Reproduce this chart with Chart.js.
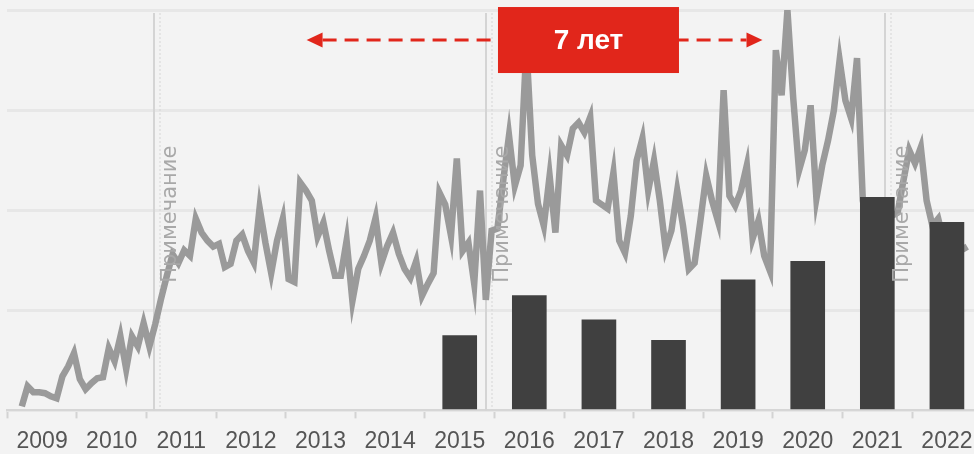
<!DOCTYPE html>
<html><head><meta charset="utf-8">
<script src="https://cdn.jsdelivr.net/npm/chart.js@4.4.1/dist/chart.umd.min.js"></script>
<style>
html,body{margin:0;padding:0;background:#f3f3f3;overflow:hidden;}
#wrap{position:relative;width:974px;height:454px;}
</style></head><body>
<div id="wrap"><canvas id="c" width="974" height="454"></canvas></div>
<script>
// ---- data ----
const years = [2009,2010,2011,2012,2013,2014,2015,2016,2017,2018,2019,2020,2021,2022];
const barYears = [2015,2016,2017,2018,2019,2020,2021,2022];
const barValues = [18.7,28.7,22.6,17.5,32.6,37.2,53.2,47.0];
const lineStartYear = 2009;
const lineStartMonth = 3; // March 2009, monthly
const lineValues = [
  1,6,4.5,4.5,4.3,3.5,3,8.5,11,14.3,            // 2009 Mar-Dec
  7.8,5.3,6.8,8,8.3,15.5,12.3,18.5,10.3,18.5,16,21.8, // 2010
  16,21.5,27.8,33.6,39,36.8,40,38.6,47.9,44.4,42.4,40.9, // 2011
  41.6,35.8,36.6,42.4,43.9,39.8,36.9,50.6,41.9,34.3,42.4,47.9, // 2012
  32.8,32.1,56.9,54.9,52.4,43.4,46.9,39.8,33.6,33.6,42.4,27.3, // 2013
  35.3,38.6,42.4,48.1,36.8,41.1,44.4,39.1,35.3,33.1,37.3,28.6, // 2014
  31.6,34.3,54.4,51.4,43.6,62.9,39.8,41.9,31.6,54.9,27.6,44.9, // 2015
  45.4,57.4,68.7,56.1,61.2,91,63.7,51.6,46.1,58.6,44.4,66.2, // 2016
  63.7,70.4,71.9,69.4,73.2,52.4,51.4,50.4,59.4,42.4,39.3,48.6, // 2017
  62.4,67.9,54.9,62.4,52.4,40.4,44.9,54.9,46.1,35.3,36.8,47.4, // 2018
  58.6,52.4,47.4,80,53.6,51.1,54.9,61.2,42.9,47.4,38.6,34.8, // 2019
  90,78.7,100,78,59.9,65,76.2,52.9,61.2,67.4,74.9,87.5, // 2020
  77.4,72.9,88,52.4,44.9,39.8,42.4,46.1,48.6,49.4,57.4,65, // 2021
  61.7,65.7,52.4,46.1,47.9,42,40,41,40,40.9 // 2022 Jan-Oct
];
const noteDates = [2011.108, 2015.878, 2021.611];
const noteLabel = 'Примечание';
const spanLabel = '7 лет';
const spanFrom = 2013.3, spanTo = 2019.85, spanLevel = 92.5, spanCenter = 2017.35;

// ---- build ----
const X_MIN = 2009, X_MAX = 2022.889;
const lineData = lineValues.map((v,i)=>({x: lineStartYear + (lineStartMonth - 1 + i + 0.5)/12, y: v}));
const barData = barYears.map((yr,i)=>({x: yr + 0.5, y: barValues[i]}));
const xTicks = [];
years.forEach(y=>{ xTicks.push(y); xTicks.push(y+0.5); });
xTicks.push(X_MAX);

const annot = {
  id:'annot',
  beforeDatasetsDraw(chart){
    const {ctx, chartArea:a, scales:{x}} = chart;
    ctx.save();
    noteDates.forEach(d=>{
      const px = Math.round(x.getPixelForValue(d));
      ctx.strokeStyle='#d4d4d4'; ctx.lineWidth=2;
      ctx.beginPath(); ctx.moveTo(px, a.top+3); ctx.lineTo(px, a.bottom); ctx.stroke();
      ctx.strokeStyle='rgba(212,212,212,0.6)'; ctx.lineWidth=1.5; ctx.setLineDash([2,2]);
      ctx.beginPath(); ctx.moveTo(px+6, a.top+3); ctx.lineTo(px+6, a.bottom); ctx.stroke();
      ctx.setLineDash([]);
    });
    ctx.restore();
  },
  afterDatasetsDraw(chart){
    const {ctx, scales:{x,y}} = chart;
    ctx.save();
    // note labels
    ctx.fillStyle='#a8a8a8';
    ctx.font='21px "DejaVu Sans"';
    ctx.textAlign='center'; ctx.textBaseline='middle';
    noteDates.forEach(d=>{
      const px = x.getPixelForValue(d)+17, py = y.getPixelForValue(49);
      ctx.save(); ctx.translate(px,py); ctx.rotate(-Math.PI/2);
      ctx.fillText(noteLabel,0,0); ctx.restore();
    });
    // arrow
    const red='#e1261b';
    const xl = x.getPixelForValue(spanFrom), xr = x.getPixelForValue(spanTo), ay = y.getPixelForValue(spanLevel);
    ctx.strokeStyle=red; ctx.fillStyle=red; ctx.lineWidth=3;
    ctx.setLineDash([14,8]);
    ctx.beginPath(); ctx.moveTo(xl+16, ay); ctx.lineTo(xr-16, ay); ctx.stroke();
    ctx.setLineDash([]);
    ctx.beginPath(); ctx.moveTo(xl, ay); ctx.lineTo(xl+16, ay-7.5); ctx.lineTo(xl+16, ay+7.5); ctx.closePath(); ctx.fill();
    ctx.beginPath(); ctx.moveTo(xr, ay); ctx.lineTo(xr-16, ay-7.5); ctx.lineTo(xr-16, ay+7.5); ctx.closePath(); ctx.fill();
    // box
    const bx = x.getPixelForValue(spanCenter);
    const bw = 181, bh = 66;
    ctx.fillRect(bx - bw/2, ay - bh/2, bw, bh);
    ctx.fillStyle='#ffffff';
    ctx.font='bold 28px "Liberation Sans"';
    ctx.fillText(spanLabel, bx, ay+1);
    ctx.restore();
  }
};

new Chart(document.getElementById('c'), {
  type:'bar',
  data:{
    datasets:[
      {type:'bar', data:barData, backgroundColor:'#404040', barThickness:34, order:0},
      {type:'line', data:lineData, borderColor:'#9a9a9a', borderWidth:6.5, pointRadius:0, tension:0, fill:false, order:1}
    ]
  },
  options:{
    responsive:false, animation:false, devicePixelRatio:1,
    layout:{autoPadding:false, padding:{left:7.3, right:0, top:10, bottom:-10}},
    plugins:{legend:{display:false}, tooltip:{enabled:false}},
    scales:{
      x:{
        type:'linear', min:X_MIN, max:X_MAX, offset:false,
        afterBuildTicks: s => { s.ticks = xTicks.map(v=>({value:v})); },
        ticks:{autoSkip:false, maxRotation:0, minRotation:0, padding:0, color:'#555555',
          font:{family:'Liberation Sans', size:23, lineHeight:1.983},
          callback: v => (Math.abs(v % 1 - 0.5) < 1e-6) ? String(years.find(y=>y===Math.floor(v))) : ''},
        grid:{drawOnChartArea:false, offset:false, drawTicks:true, tickLength:8, tickWidth:2,
          tickColor: c => (c.tick && Math.abs(c.tick.value % 1) < 1e-6) ? '#d3d3d3' : 'rgba(0,0,0,0)'},
        border:{color:'#d6d6d6', width:2}
      },
      y:{
        min:0, max:100,
        ticks:{display:false, stepSize:25},
        grid:{color:'#e7e7e7', lineWidth:3, drawTicks:false},
        border:{display:false}
      }
    }
  },
  plugins:[annot]
});
</script>
</body></html>
